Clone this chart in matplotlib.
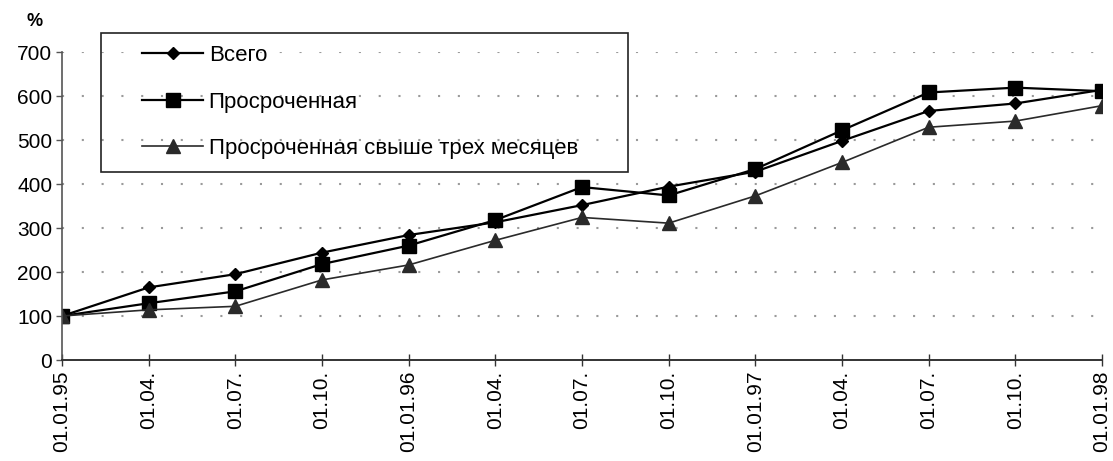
import numpy as np
import matplotlib.pyplot as plt
import matplotlib.patches as mpatches

plt.rcParams['font.family'] = ['Liberation Sans', 'DejaVu Sans']

# даты (квартальные)
dates = ['01.01.95', '01.04.', '01.07.', '01.10.',
         '01.01.96', '01.04.', '01.07.', '01.10.',
         '01.01.97', '01.04.', '01.07.', '01.10.', '01.01.98']

# задолженность, % к 01.01.95
total = [100, 165, 195, 244, 284, 313, 352, 394, 428, 498, 566, 583, 614]
overdue = [100, 129, 156, 218, 260, 318, 393, 374, 434, 522, 608, 619, 611]
overdue_3m = [100, 114, 122, 182, 216, 272, 324, 311, 373, 449, 529, 543, 578]

labels = ['Всего', 'Просроченная', 'Просроченная свыше трех месяцев']

x = np.arange(len(dates))

fig = plt.figure()
fig.set_size_inches(1113/100, 461/100)
ax = fig.add_axes([62/1113, 1-360/461, 1040/1113, 308/461])

l1, = ax.plot(x, total, color='black', lw=1.6, marker='D', markersize=6.5, label=labels[0])
l2, = ax.plot(x, overdue, color='black', lw=1.6, marker='s', markersize=10.3, label=labels[1])
l3, = ax.plot(x, overdue_3m, color='#2a2a2a', lw=1.2, marker='^', markersize=9.8, label=labels[2])

ax.set_xlim(0, len(dates)-1)
ax.set_ylim(0, 700)
ax.set_yticks(range(0, 701, 100))
ax.set_xticks(x)
ax.set_xticklabels(dates, rotation=90)

for yv in range(100, 701, 100):
    ax.axhline(y=yv, color='#9a9a9a', lw=1.5, linestyle=(0, (1, 8.5)), zorder=0)

ax.spines['top'].set_visible(False)
ax.spines['right'].set_visible(False)
ax.spines['left'].set_color('#555555')
ax.spines['bottom'].set_color('#333333')
ax.spines['left'].set_linewidth(1.2)
ax.spines['bottom'].set_linewidth(1.4)
ax.tick_params(axis='y', direction='out', length=4, width=1, colors='#555555',
               labelcolor='black', labelsize=15, pad=3)
ax.tick_params(axis='x', direction='inout', length=9, width=1, colors='#333333',
               labelcolor='black', labelsize=15, pad=3)

fig.text(35/1113, 1-22/461, '%', ha='center', va='center', fontsize=13, fontweight='bold')

# легенда в рамке
box = mpatches.Rectangle((101/1113, 1-172/461), 527/1113, 139/461,
                         transform=fig.transFigure, fill=False,
                         edgecolor='#222222', lw=1.2)
fig.add_artist(box)
fig.legend(handles=[l1, l2, l3], loc='upper left',
           bbox_to_anchor=(142/1113, 1-45/461), frameon=False,
           fontsize=16, handlelength=2.75, handletextpad=0.25,
           labelspacing=1.15, borderpad=0, borderaxespad=0)

plt.savefig('out.png', dpi=100)
